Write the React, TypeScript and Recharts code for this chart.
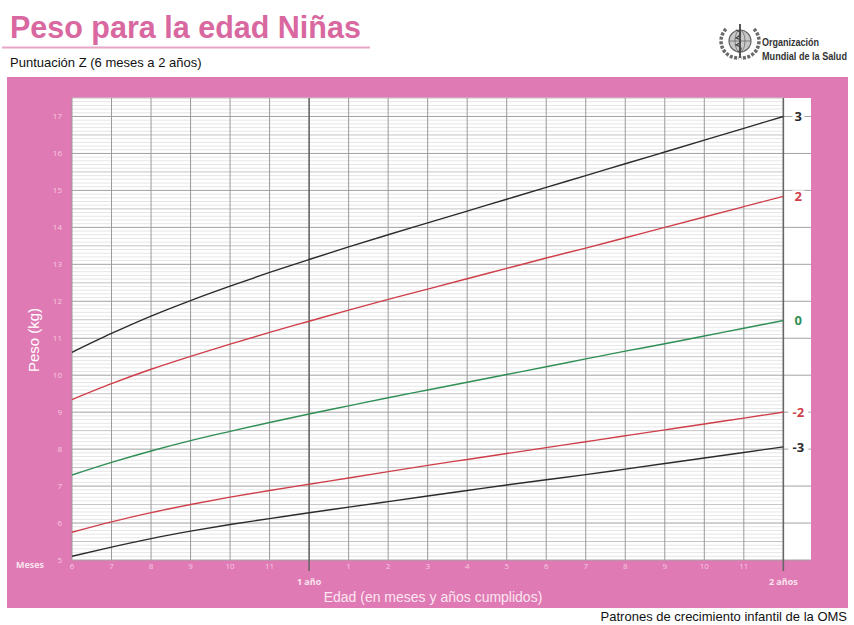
import React from 'react';
import { LineChart, Line, XAxis, YAxis, CartesianGrid, ReferenceLine } from 'recharts';

// ---- Data (WHO weight-for-age, girls, 6 months to 2 years) ----
const months = [6, 7, 8, 9, 10, 11, 12, 13, 14, 15, 16, 17, 18, 19, 20, 21, 22, 23, 24];
const sdPlus3 = [10.62, 11.13, 11.6, 12.02, 12.41, 12.78, 13.13, 13.47, 13.8, 14.12, 14.44, 14.76, 15.08, 15.4, 15.72, 16.04, 16.36, 16.68, 17.0];
const sdPlus2 = [9.34, 9.77, 10.16, 10.51, 10.84, 11.16, 11.46, 11.76, 12.05, 12.33, 12.61, 12.89, 13.17, 13.44, 13.72, 14.0, 14.28, 14.56, 14.84];
const sdMedian = [7.3, 7.64, 7.95, 8.23, 8.48, 8.72, 8.95, 9.17, 9.39, 9.6, 9.81, 10.02, 10.23, 10.44, 10.65, 10.85, 11.06, 11.27, 11.48];
const sdMinus2 = [5.75, 6.03, 6.28, 6.5, 6.7, 6.88, 7.05, 7.22, 7.39, 7.56, 7.72, 7.88, 8.04, 8.2, 8.36, 8.52, 8.68, 8.84, 9.0];
const sdMinus3 = [5.1, 5.35, 5.58, 5.78, 5.96, 6.12, 6.28, 6.43, 6.58, 6.73, 6.88, 7.03, 7.17, 7.31, 7.46, 7.61, 7.76, 7.91, 8.06];

const monthTickLabels = ['6', '7', '8', '9', '10', '11', '1 año', '1', '2', '3', '4', '5', '6', '7', '8', '9', '10', '11', '2 años'];
const yTicks = [5, 6, 7, 8, 9, 10, 11, 12, 13, 14, 15, 16, 17];
const zLabels = ['3', '2', '0', '-2', '-3'];

const X_MIN = 6;
const X_MAX = 24;
const X_PAD_MAX = 24.7;
const Y_MIN = 5;
const Y_MAX = 17.5;

const PINK = '#e07ab4';
const TITLE_PINK = '#d8689f';
const TICK_PINK = '#f6cbe2';
const BLACK_LINE = '#2b2b2b';
const RED_LINE = '#cf3f4a';
const GREEN_LINE = '#2f8f55';

const data = months.map((m, i) => ({
  m,
  p3: sdPlus3[i],
  p2: sdPlus2[i],
  p0: sdMedian[i],
  m2: sdMinus2[i],
  m3: sdMinus3[i],
}));

// grid values every 0.1 kg
const gridValues: number[] = [];
for (let i = Y_MIN * 10; i <= Y_MAX * 10; i++) gridValues.push(i / 10);

const XTick = (props: any) => {
  const { x, y, payload } = props;
  const idx = months.indexOf(payload.value);
  const label = monthTickLabels[idx];
  const isYear = payload.value % 12 === 0;
  if (isYear) {
    return (
      <g>
        <line x1={x} x2={x} y1={y} y2={y + 11} stroke="#666" strokeWidth={1.6} />
        <text x={x} y={y + 25} textAnchor="middle" fill="#fbe3ef" fontSize={9} fontWeight="bold" fontFamily="'Open Sans', sans-serif">
          {label}
        </text>
      </g>
    );
  }
  return (
    <text x={x} y={y + 9} textAnchor="middle" fill={TICK_PINK} fontSize={8} fontFamily="'Open Sans', sans-serif">
      {label}
    </text>
  );
};

const makeEndLabel = (text: string, color: string) => (props: any) => {
  const { x, y, index } = props;
  if (index !== months.length - 1) return <g />;
  const w = text.length * 8 + 4;
  const cx = x + 15;
  return (
    <g>
      <rect x={cx - w / 2} y={y - 6} width={w} height={12} fill="#fff" />
      <text x={cx} y={y} dy="0.36em" textAnchor="middle" fill={color} fontSize={13} fontWeight="bold" fontFamily="'Open Sans', sans-serif">
        {text}
      </text>
    </g>
  );
};

const Background = () => (
  <svg width={854} height={625} style={{ position: 'absolute', left: 0, top: 0 }}>
    <rect x={0} y={0} width={854} height={625} fill="#fff" />
    <text x={10} y={38} fontSize={30.5} fontWeight="bold" fill={TITLE_PINK} fontFamily="'Liberation Sans', Arial, sans-serif">
      Peso para la edad Niñas
    </text>
    <line x1={2} x2={370} y1={47.5} y2={47.5} stroke="#e8a5ca" strokeWidth={2} />
    <text x={10} y={67} fontSize={13} fill="#111" fontFamily="'Liberation Sans', Arial, sans-serif">
      Puntuación Z (6 meses a 2 años)
    </text>
    {/* WHO emblem */}
    <g stroke="#6a6a6a" fill="none">
      <path d="M726 29 A17 17 0 0 0 739 58" strokeWidth={3.5} strokeDasharray="3 1.5" />
      <path d="M754 29 A17 17 0 0 1 741 58" strokeWidth={3.5} strokeDasharray="3 1.5" />
      <circle cx={740} cy={41} r={11} fill="#c9c9c9" strokeWidth={1.2} />
      <ellipse cx={740} cy={41} rx={5} ry={11} strokeWidth={0.8} />
      <line x1={729} x2={751} y1={41} y2={41} strokeWidth={0.8} />
      <line x1={740} x2={740} y1={24} y2={58} strokeWidth={1.8} stroke="#444" />
      <path d="M736 30 Q745 33 736 38 Q745 41 736 45 Q745 48 738 52" strokeWidth={1.3} stroke="#444" />
    </g>
    <text x={762} y={46} fontSize={10} fontWeight="bold" fill="#333" textLength={57} lengthAdjust="spacingAndGlyphs" fontFamily="'Liberation Sans', Arial, sans-serif">
      Organización
    </text>
    <text x={762} y={60} fontSize={10} fontWeight="bold" fill="#333" textLength={85} lengthAdjust="spacingAndGlyphs" fontFamily="'Liberation Sans', Arial, sans-serif">
      Mundial de la Salud
    </text>
    {/* pink frame */}
    <rect x={7} y={77} width={841} height={531} fill={PINK} />
    <text transform="translate(39,340) rotate(-90)" textAnchor="middle" fontSize={15} fill="#fff" fontFamily="'Liberation Sans', Arial, sans-serif">
      Peso (kg)
    </text>
    <text x={30} y={568} textAnchor="middle" fontSize={9} fontWeight="bold" fill="#fbe3ef" fontFamily="'Open Sans', sans-serif">
      Meses
    </text>
    <text x={433} y={602} textAnchor="middle" fontSize={14} fill="#fbe6f1" fontFamily="'Liberation Sans', Arial, sans-serif">
      Edad (en meses y años cumplidos)
    </text>
    <text x={847} y={621} textAnchor="end" fontSize={13} fill="#111" fontFamily="'Liberation Sans', Arial, sans-serif">
      Patrones de crecimiento infantil de la OMS
    </text>
  </svg>
);

export default function App() {
  return (
    <div style={{ position: 'absolute', left: 0, top: 0, width: 854, height: 625 }}>
      <Background />
      <div style={{ position: 'absolute', left: 0, top: 0 }}>
        <LineChart width={854} height={625} data={data} margin={{ top: 98, right: 13, bottom: 35, left: 42 }}>
          <CartesianGrid fill="#fff" horizontal={false} vertical={false} />
          <XAxis
            dataKey="m"
            type="number"
            domain={[X_MIN, X_PAD_MAX]}
            ticks={months}
            interval={0}
            axisLine={false}
            tickLine={false}
            tickSize={0}
            tickMargin={0}
            height={30}
            tick={<XTick />}
          />
          <YAxis
            yAxisId="left"
            type="number"
            domain={[Y_MIN, Y_MAX]}
            ticks={yTicks}
            interval={0}
            axisLine={false}
            tickLine={false}
            tickSize={0}
            tickMargin={10}
            width={30}
            tick={{ fill: TICK_PINK, fontSize: 8, fontFamily: "'Open Sans', sans-serif" }}
          />
          <YAxis
            yAxisId="right"
            orientation="right"
            type="number"
            domain={[Y_MIN, Y_MAX]}
            ticks={yTicks}
            interval={0}
            axisLine={false}
            tickLine={false}
            tickSize={0}
            tickMargin={11}
            width={30}
            tick={{ fill: TICK_PINK, fontSize: 8, fontFamily: "'Open Sans', sans-serif" }}
          />
          {gridValues.map((v) => {
            const isInt = Math.abs(v - Math.round(v)) < 1e-6;
            const isHalf = !isInt && Math.abs(v * 2 - Math.round(v * 2)) < 1e-6;
            const stroke = isInt ? '#a2a2a2' : isHalf ? '#c4c4c4' : '#e6e6e6';
            const xEnd = isInt ? X_PAD_MAX : X_MAX;
            return (
              <ReferenceLine
                key={'h' + v}
                yAxisId="left"
                segment={[{ x: X_MIN, y: v }, { x: xEnd, y: v }]}
                stroke={stroke}
                strokeWidth={1}
                ifOverflow="visible"
              />
            );
          })}
          {months.map((m) => (
            <ReferenceLine
              key={'v' + m}
              yAxisId="left"
              x={m}
              stroke={m % 12 === 0 ? '#666' : '#9a9a9a'}
              strokeWidth={m % 12 === 0 ? 1.6 : 1}
            />
          ))}
          <Line yAxisId="left" type="monotone" dataKey="p3" stroke={BLACK_LINE} strokeWidth={1.4} dot={false} isAnimationActive={false} label={makeEndLabel(zLabels[0], BLACK_LINE)} />
          <Line yAxisId="left" type="monotone" dataKey="p2" stroke={RED_LINE} strokeWidth={1.4} dot={false} isAnimationActive={false} label={makeEndLabel(zLabels[1], RED_LINE)} />
          <Line yAxisId="left" type="monotone" dataKey="p0" stroke={GREEN_LINE} strokeWidth={1.4} dot={false} isAnimationActive={false} label={makeEndLabel(zLabels[2], GREEN_LINE)} />
          <Line yAxisId="left" type="monotone" dataKey="m2" stroke={RED_LINE} strokeWidth={1.4} dot={false} isAnimationActive={false} label={makeEndLabel(zLabels[3], RED_LINE)} />
          <Line yAxisId="left" type="monotone" dataKey="m3" stroke={BLACK_LINE} strokeWidth={1.4} dot={false} isAnimationActive={false} label={makeEndLabel(zLabels[4], BLACK_LINE)} />
        </LineChart>
      </div>
    </div>
  );
}
